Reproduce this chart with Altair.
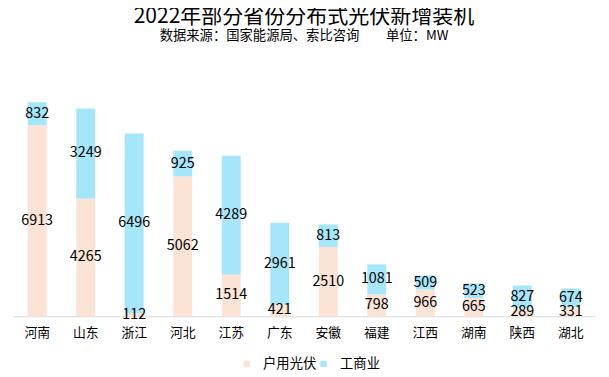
import altair as alt
import pandas as pd

provinces = ["河南", "山东", "浙江", "河北", "江苏", "广东", "安徽", "福建", "江西", "湖南", "陕西", "湖北"]
household = [6913, 4265, 112, 5062, 1514, 421, 2510, 798, 966, 665, 289, 331]
commercial = [832, 3249, 6496, 925, 4289, 2961, 813, 1081, 509, 523, 827, 674]
series = ["户用光伏", "工商业"]
colors = ["#FBE3D6", "#A6E6FA"]

rows = []
for i, p in enumerate(provinces):
    rows.append({"province": p, "series": series[0], "value": household[i], "ord": 0})
    rows.append({"province": p, "series": series[1], "value": commercial[i], "ord": 1})
df = pd.DataFrame(rows)

FONT = "Noto Sans CJK SC"

base = alt.Chart(df).transform_stack(
    stack="value", groupby=["province"], sort=[alt.SortField("ord", order="ascending")], as_=["v0", "v1"]
).transform_calculate(mid="(datum.v0 + datum.v1) / 2")

xscale = alt.Scale(paddingInner=0.61, paddingOuter=0.305)
yscale = alt.Scale(domain=[0, 9208])

bars = base.mark_bar().encode(
    x=alt.X("province:N", sort=provinces, scale=xscale,
            axis=alt.Axis(title=None, labelAngle=0, ticks=False, domainColor="#D9D9D9",
                          domainWidth=1, labelFontSize=13, labelColor="#000000",
                          labelFont=FONT, labelPadding=10)),
    y=alt.Y("v0:Q", scale=yscale, axis=None),
    y2="v1:Q",
    color=alt.Color("series:N", sort=series,
                    scale=alt.Scale(domain=series, range=colors),
                    legend=alt.Legend(title=None, orient="none", legendX=230, legendY=299,
                                      direction="horizontal", symbolType="square",
                                      symbolSize=40, symbolStrokeWidth=0, labelFontSize=13.5,
                                      labelFont=FONT, labelColor="#000000", labelOffset=10,
                                      columnPadding=-4, padding=0)),
)

text = base.mark_text(fontSize=14.5, font=FONT, color="#000000").encode(
    x=alt.X("province:N", sort=provinces, scale=xscale),
    y=alt.Y("mid:Q", scale=yscale, axis=None),
    text="value:Q",
)

chart = (bars + text).properties(
    width=590, height=258,
    title=alt.Title("2022年部分省份分布式光伏新增装机",
                    subtitle="数据来源：国家能源局、索比咨询　　单位：MW",
                    fontSize=21.3, font=FONT, fontWeight="normal", color="#000000",
                    subtitleFontSize=13.5, subtitleFont=FONT, subtitleColor="#000000",
                    subtitlePadding=1, anchor="middle", offset=20),
    autosize=alt.AutoSizeParams(type="none"),
    padding={"left": 5, "top": 52, "right": 6, "bottom": 55},
).configure_view(stroke=None)

chart.save("out.html", embed_options={"renderer": "svg", "actions": False})
